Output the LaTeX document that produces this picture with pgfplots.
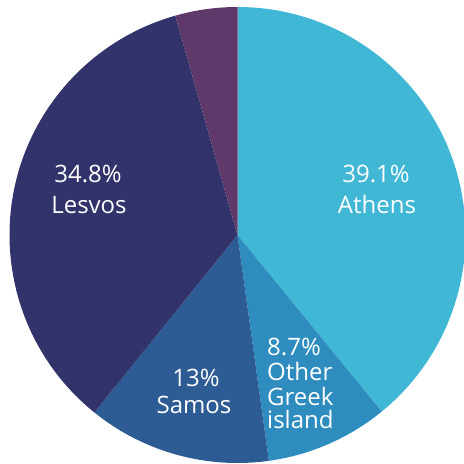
\documentclass[border=0pt]{standalone}
\usepackage{pgfplots}
\pgfplotsset{compat=1.18}
\usepackage{fontspec}
\setmainfont{Open Sans}

\definecolor{athens}{HTML}{41B7D6}
\definecolor{other}{HTML}{2E8CBF}
\definecolor{samos}{HTML}{2D5C94}
\definecolor{lesvos}{HTML}{31336A}
\definecolor{rest}{HTML}{5E3969}

% pie centre and radius in axis units (1 unit = 1pt)
\newcommand{\cx}{237.5}
\newcommand{\cy}{229}
% #1 cumulative share before slice, #2 share (percent), #3 colour
\newcommand{\slice}[3]{%
  \edef\temp{\noexpand\fill[#3]
    (axis cs:\cx,\cy) -- ++({90-3.6*#1}:228pt)
    arc[start angle={90-3.6*#1}, delta angle={-3.6*#2}, radius=228pt] -- cycle;}%
  \temp}

\begin{document}
\begin{tikzpicture}
\begin{axis}[
    width=464pt, height=464pt,
    scale only axis,
    xmin=0, xmax=464, ymin=0, ymax=464,
    hide axis,
]
  \path (axis cs:0,0) rectangle (axis cs:464,464);
  % shares: Athens 39.1, Other Greek island 8.7, Samos 13, Lesvos 34.8, rest 4.4
  \slice{0}{39.1}{athens}
  \slice{39.1}{8.7}{other}
  \slice{47.8}{13.0}{samos}
  \slice{60.8}{34.8}{lesvos}
  \slice{95.6}{4.4}{rest}

  \begin{scope}[every node/.style={text=white, font=\fontsize{24}{28}\selectfont, inner sep=0pt}]
    \node at (axis cs:376,290) {39.1\%};
    \node at (axis cs:377,259) {Athens};
    \node at (axis cs:88,290) {34.8\%};
    \node at (axis cs:89,259) {Lesvos};
    \node at (axis cs:196,86) {13\%};
    \node at (axis cs:194,59) {Samos};
    \node[anchor=west] at (axis cs:267,117) {8.7\%};
    \node[anchor=west] at (axis cs:267,92) {Other};
    \node[anchor=west] at (axis cs:267,67) {Greek};
    \node[anchor=west] at (axis cs:267,44) {island};
  \end{scope}
\end{axis}
\end{tikzpicture}
\end{document}
